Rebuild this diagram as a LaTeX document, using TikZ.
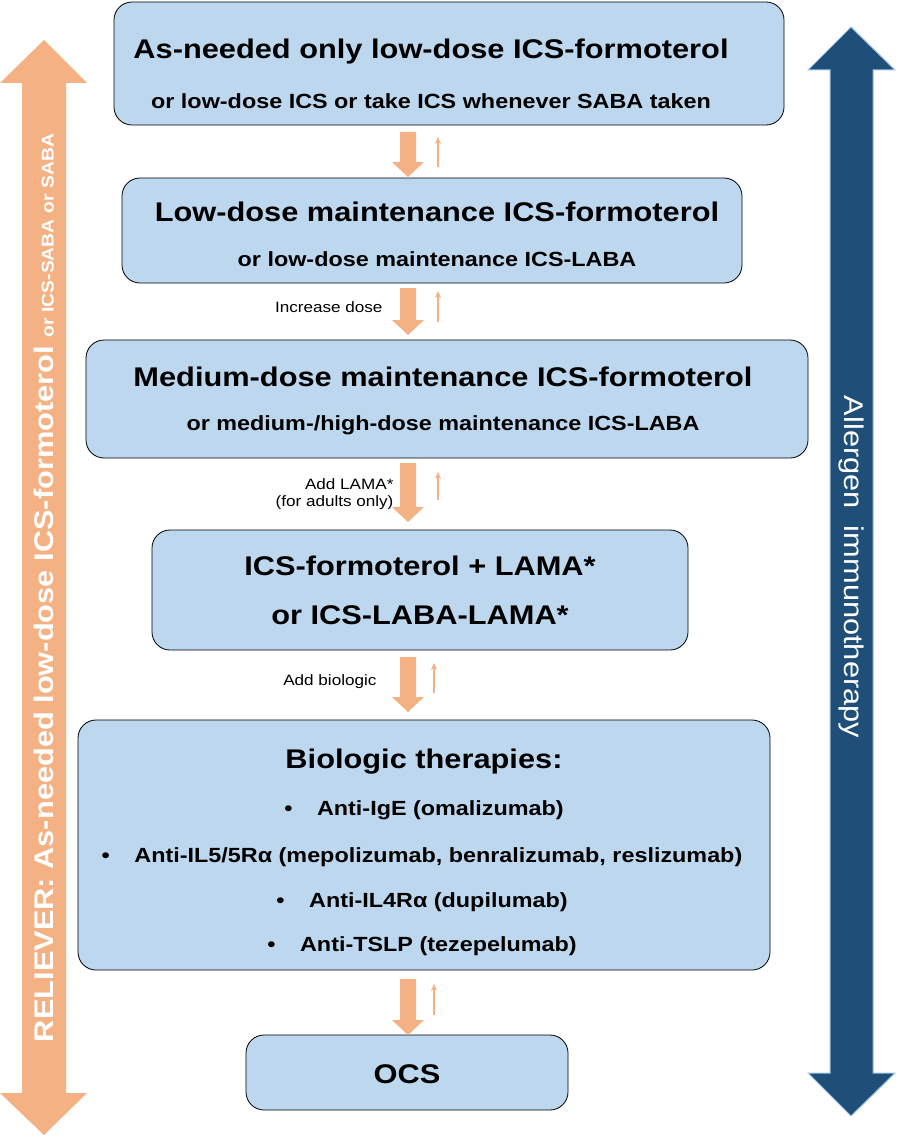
\documentclass[tikz,border=0pt]{standalone}
\usepackage{fontspec}
\setmainfont{Liberation Sans}[FakeStretch=1.14]
\usetikzlibrary{calc,arrows.meta}
\definecolor{boxfill}{HTML}{BDD7EE}
\definecolor{orng}{HTML}{F4B183}
\definecolor{navy}{HTML}{1F4E79}
\definecolor{navyedge}{HTML}{9DC3E6}
\tikzset{
  stepbox/.style={draw=black,line width=0.8pt,fill=boxfill,rounded corners=18pt},
  big/.style={font=\fontsize{27}{30}\selectfont\bfseries},
  mid/.style={font=\fontsize{20.5}{23}\selectfont\bfseries},
  lbl/.style={font=\fontsize{15}{17}\selectfont,anchor=east,align=right},
  thin/.style={orng,line width=1.2pt,-{Stealth[length=7pt,width=6pt]}}
}
\newcommand{\downarr}[2]{%
  \fill[orng] (400,#1) -- (416,#1) -- (416,#2-15) -- (424,#2-15) -- (408,#2) -- (392,#2-15) -- (400,#2-15) -- cycle;}
\begin{document}
\begin{tikzpicture}[x=1pt,y=-1pt]
\useasboundingbox (0,0) rectangle (897,1137);
% side arrows
\fill[orng] (44,40) -- (87,83) -- (66,83) -- (66,1093) -- (87,1093) -- (44,1135) -- (0,1093) -- (22,1093) -- (22,83) -- (0,83) -- cycle;
\node[rotate=90,text=white] (rel) at (44,588) {\fontsize{27}{30}\selectfont\bfseries RELIEVER: As-needed low-dose ICS-formoterol \fontsize{17}{19}\selectfont or ICS-SABA or SABA};
\draw[navyedge,fill=navy,line width=1pt] (851,27) -- (895,70) -- (873,70) -- (873,1073) -- (895,1073) -- (851,1116) -- (808,1073) -- (830,1073) -- (830,70) -- (808,70) -- cycle;
\node[rotate=-90,text=white] (ait) at (851,567) {\fontsize{27}{30}\selectfont Allergen\ \ immunotherapy};
% boxes
\draw[stepbox] (114,2) rectangle (784,125);
\node[big] (t1) at (431,52) {As-needed only low-dose ICS-formoterol};
\node[mid] (s1) at (431,101) {or low-dose ICS or take ICS whenever SABA taken};
\draw[stepbox] (122,178) rectangle (742,283);
\node[big] (t2) at (437,212) {Low-dose maintenance ICS-formoterol};
\node[mid] (s2) at (437,259) {or low-dose maintenance ICS-LABA};
\draw[stepbox] (86,340) rectangle (808,458);
\node[big] (t3) at (443,377) {Medium-dose maintenance ICS-formoterol};
\node[mid] (s3) at (443,425) {or medium-/high-dose maintenance ICS-LABA};
\draw[stepbox] (152,530) rectangle (688,650);
\node[big] (t4) at (420,566) {ICS-formoterol + LAMA*};
\node[big] (s4) at (420,615) {or ICS-LABA-LAMA*};
\draw[stepbox] (78,720) rectangle (770,970);
\node[big] (t5) at (424,762) {Biologic therapies:};
\node[mid] (b1) at (424,810) {•\hspace{1.2em}Anti-IgE (omalizumab)};
\node[mid] (b2) at (422,857) {•\hspace{1.2em}Anti-IL5/5Rα (mepolizumab, benralizumab, reslizumab)};
\node[mid] (b3) at (422,902) {•\hspace{1.2em}Anti-IL4Rα (dupilumab)};
\node[mid] (b4) at (422,946) {•\hspace{1.2em}Anti-TSLP (tezepelumab)};
\draw[stepbox] (246,1035) rectangle (568,1110);
\node[big] (t6) at (407,1074) {OCS};
% step arrows
\downarr{132}{177}
\draw[thin] (438,167) -- (438,137);
\downarr{288}{335}
\draw[thin] (438,322) -- (438,291);
\downarr{463}{522}
\draw[thin] (438,500) -- (438,472);
\downarr{657}{712}
\draw[thin] (434,693) -- (434,663);
\downarr{979}{1035}
\draw[thin] (434,1015) -- (434,984);
% labels
\node[lbl] (l1) at (386,307) {Increase dose};
\node[lbl] (l2) at (397,494) {Add LAMA*\\(for adults only)};
\node[lbl] (l3) at (380,682) {Add biologic};
\end{tikzpicture}
\end{document}
